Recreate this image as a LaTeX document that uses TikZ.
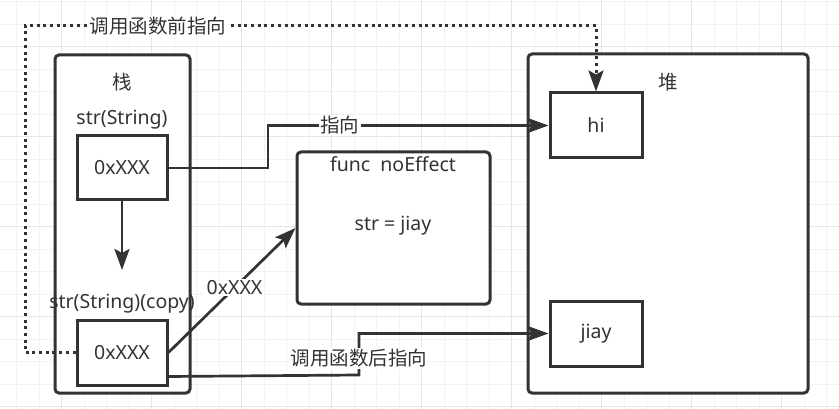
\documentclass[tikz,border=0pt]{standalone}
\usepackage{fontspec}
\setmainfont{Noto Sans}
\newfontfamily\cjk{Noto Sans CJK SC}
\usetikzlibrary{arrows.meta,calc}
\definecolor{ink}{HTML}{333333}
\definecolor{gridminor}{HTML}{F2F2F2}
\definecolor{gridmajor}{HTML}{E6E6E6}
\tikzset{
  txt/.style={font=\fontsize{19.5}{22}\selectfont, text=ink, inner sep=1pt},
  outerbox/.style={draw=ink, line width=3pt, rounded corners=4pt, fill=white, inner sep=0pt},
  cellbox/.style={draw=ink, line width=3pt, fill=white, inner sep=0pt, txt},
  arrowtip/.style={-{Stealth[length=21pt,width=15pt,inset=4pt]}},
  conn/.style={draw=ink, line width=2.7pt, arrowtip},
  dotconn/.style={draw=ink, line width=3pt, dash pattern=on 3pt off 3.7pt, arrowtip},
  lbl/.style={txt, fill=white, inner sep=1.5pt},
}
\begin{document}
\begin{tikzpicture}[x=1pt,y=-1pt]
\useasboundingbox (0,0) rectangle (839,409);
\fill[white] (0,0) rectangle (839,409);
% grid
\foreach \i in {0,...,36} {
  \pgfmathsetmacro\xx{16.7+22.5*\i}
  \draw[gridminor, line width=1pt] (\xx,0) -- (\xx,409);
}
\foreach \i in {0,...,18} {
  \pgfmathsetmacro\yy{1.7+22.5*\i}
  \draw[gridminor, line width=1pt] (0,\yy) -- (839,\yy);
}
\foreach \i in {0,...,8} {
  \pgfmathsetmacro\xx{61.7+90*\i}
  \draw[gridmajor, line width=1pt] (\xx,0) -- (\xx,409);
}
\foreach \i in {0,...,4} {
  \pgfmathsetmacro\yy{46.7+90*\i}
  \draw[gridmajor, line width=1pt] (0,\yy) -- (839,\yy);
}

% containers
\node[outerbox, minimum width=135pt, minimum height=338pt] (stack) at (122.5,224) {};
\node[outerbox, minimum width=280pt, minimum height=339pt] (heap) at (668,223.5) {};
\node[outerbox, minimum width=193pt, minimum height=152pt] (func) at (393.5,228) {};

% titles
\node[txt] (stacklbl) at (122,82) {\cjk 栈};
\node[txt] (heaplbl) at (668,82) {\cjk 堆};
\node[txt] (strlbl) at (122,120) {str(String)};
\node[txt] (copylbl) at (122,304) {str(String)(copy)};
\node[txt] (funclbl) at (393,164) {func~ noEffect};
\node[txt] (assign) at (393,226) {str = jiay};

% cells
\node[cellbox, minimum width=90pt, minimum height=64pt] (strbox) at (122,168) {0xXXX};
\node[cellbox, minimum width=90pt, minimum height=65pt] (copybox) at (122,352.5) {0xXXX};
\node[cellbox, minimum width=92pt, minimum height=65pt] (hibox) at (596,125.5) {hi};
\node[cellbox, minimum width=92pt, minimum height=65pt] (jiaybox) at (596,333.5) {jiay};

% connectors
\coordinate (down) at (122,270);
\draw[conn] (strbox.south) -- (down);

\coordinate (b1) at (268,168);
\draw[conn] (strbox.east) -- (b1) |- node[lbl, pos=0.628] {\cjk 指向} (hibox.west);

\draw[conn] (copybox.east) -- node[lbl, pos=0.52] {0xXXX} (func.west);

\coordinate (c0) at ($(copybox.south east)+(0,-10)$);
\coordinate (c1) at (359,375);
\coordinate (c2) at (359,333.5);
\draw[conn] (c0) -- (c1) -- node[lbl, pos=0.4] {\cjk 调用函数后指向} (c2) -- (jiaybox.west);

\coordinate (d1) at (25,352.5);
\coordinate (d2) at (25,26);
\coordinate (d3) at (596,26);
\draw[dotconn] (copybox.west) -- (d1) -- (d2) -- node[lbl, pos=0.233] {\cjk 调用函数前指向} (d3) -- (hibox.north);
\end{tikzpicture}
\end{document}
